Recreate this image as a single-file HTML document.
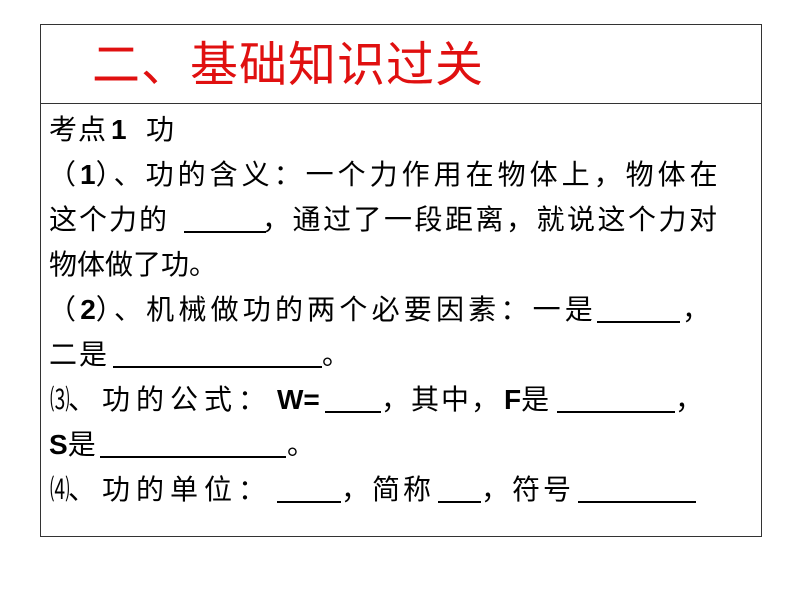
<!DOCTYPE html>
<html><head><meta charset="utf-8"><style>
body{margin:0;width:800px;height:600px;background:#fff;position:relative;overflow:hidden;font-family:"Liberation Sans","Noto Sans CJK SC",sans-serif}
.box{position:absolute;left:40px;top:24px;width:720px;height:511px;border:1px solid #333}
.div{position:absolute;left:40px;top:103px;width:721px;height:1px;background:#333}
.t{position:absolute;left:92px;top:38px;font-size:48px;color:#e01010;line-height:56px;white-space:nowrap;letter-spacing:1px}
.l{position:absolute;font-size:28px;line-height:32px;color:#000;white-space:nowrap}
b{font-weight:bold;letter-spacing:0}
.u{position:absolute;height:2px;background:#000}
.n{display:inline-block;transform:scaleX(0.7);transform-origin:left}
</style></head><body>
<div class="box"></div><div class="div"></div>
<div class="t">二、基础知识过关</div>
<div class="l" style="top:114px;left:49px;letter-spacing:1px">考点</div>
<div class="l" style="top:114px;left:111px"><b>1</b></div>
<div class="l" style="top:114px;left:146px">功</div>
<div class="l" style="top:159px;left:48px;letter-spacing:4px">（<b>1</b>）、功的含义：一个力作用在物体上，物体在</div>
<div class="l" style="top:204px;left:49px;letter-spacing:2px">这个力的</div>
<div class="l" style="top:204px;left:262px;letter-spacing:2.5px">，通过了一段距离，就说这个力对</div>
<div class="l" style="top:249px;left:49px;letter-spacing:0px">物体做了功。</div>
<div class="l" style="top:294px;left:48px;letter-spacing:4.2px">（<b>2</b>）、机械做功的两个必要因素：一是</div>
<div class="l" style="top:294px;left:682px">，</div>
<div class="l" style="top:339px;left:49px;letter-spacing:2px">二是</div>
<div class="l" style="top:339px;left:322px">。</div>
<div class="l" style="top:384px;left:50px"><span class="n">⑶</span></div>
<div class="l" style="top:384px;left:68px;letter-spacing:6px">、功的公式：</div>
<div class="l" style="top:384px;left:277px"><b>W=</b></div>
<div class="l" style="top:384px;left:381px;letter-spacing:2px">，其中，</div>
<div class="l" style="top:384px;left:504px"><b>F</b>是</div>
<div class="l" style="top:384px;left:675px">，</div>
<div class="l" style="top:429px;left:49px"><b>S</b>是</div>
<div class="l" style="top:429px;left:287px">。</div>
<div class="l" style="top:474px;left:50px"><span class="n">⑷</span></div>
<div class="l" style="top:474px;left:68px;letter-spacing:6px">、功的单位：</div>
<div class="l" style="top:474px;left:341px;letter-spacing:3px">，简称</div>
<div class="l" style="top:474px;left:481px;letter-spacing:3px">，符号</div>
<div class="u" style="left:184px;top:231px;width:82px"></div>
<div class="u" style="left:597px;top:321px;width:83px"></div>
<div class="u" style="left:113px;top:366px;width:209px"></div>
<div class="u" style="left:325px;top:411px;width:56px"></div>
<div class="u" style="left:557px;top:411px;width:118px"></div>
<div class="u" style="left:100px;top:456px;width:186px"></div>
<div class="u" style="left:277px;top:501px;width:64px"></div>
<div class="u" style="left:438px;top:501px;width:43px"></div>
<div class="u" style="left:578px;top:501px;width:118px"></div>
</body></html>
